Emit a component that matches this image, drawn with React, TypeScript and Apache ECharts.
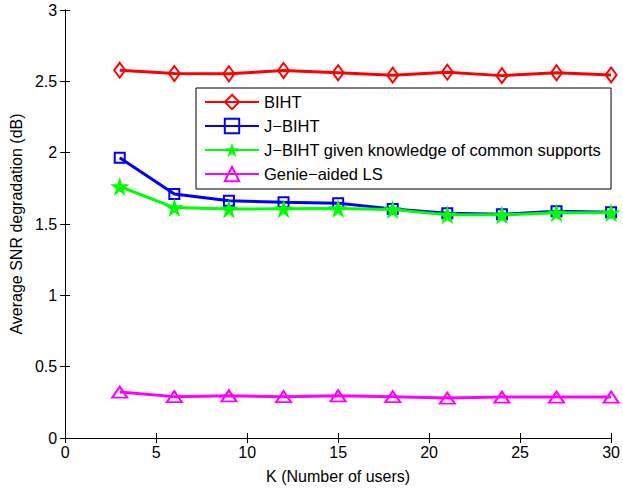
import React, { useEffect, useRef } from "react";
import * as echarts from "echarts";

const kValues = [3, 6, 9, 12, 15, 18, 21, 24, 27, 30];
const biht = [2.578, 2.555, 2.553, 2.576, 2.56, 2.543, 2.564, 2.54, 2.56, 2.545];
const jbiht = [1.965, 1.71, 1.663, 1.652, 1.646, 1.606, 1.576, 1.568, 1.59, 1.583];
const jbihtKnown = [1.763, 1.615, 1.605, 1.607, 1.609, 1.602, 1.564, 1.564, 1.578, 1.579];
const genie = [0.322, 0.29, 0.296, 0.29, 0.296, 0.29, 0.28, 0.287, 0.287, 0.287];

const seriesNames = [
  "BIHT",
  "J\u2212BIHT",
  "J\u2212BIHT given knowledge of common supports",
  "Genie\u2212aided LS",
];

const xTicks = { min: 0, max: 30, interval: 5 };
const yTicks = { min: 0, max: 3, interval: 0.5 };

const STAR =
  "path://M50,0 L61.2,34.5 L97.6,34.5 L68.2,55.9 L79.4,90.5 L50,69.1 L20.6,90.5 L31.8,55.9 L2.4,34.5 L38.8,34.5 Z";

export default function App() {
  const ref = useRef<HTMLDivElement>(null);
  useEffect(() => {
    if (!ref.current) return;
    const chart = echarts.init(ref.current, undefined, { renderer: "svg" });
    const font = "Liberation Sans, Arial, Helvetica, sans-serif";
    const mk = (data: number[]) => kValues.map((k, i) => [k, data[i]]);
    const axisCommon = {
      axisLine: { show: true, lineStyle: { color: "#000", width: 1 } },
      axisTick: { show: true, inside: true, length: 5, lineStyle: { color: "#000" } },
      splitLine: { show: false },
    };
    const hollow = (c: string) => ({ color: "rgba(255,255,255,0)", borderColor: c, borderWidth: 2 });
    chart.setOption({
      animation: false,
      backgroundColor: "#fff",
      textStyle: { fontFamily: font },
      grid: { left: 65, right: 8, top: 10, bottom: 47 },
      legend: {
        orient: "vertical",
        left: 196,
        top: 88,
        padding: [5, 10, 6, 8],
        itemGap: 6,
        itemWidth: 54,
        itemHeight: 18,
        borderColor: "#000",
        borderWidth: 1,
        borderRadius: 0,
        backgroundColor: "#fff",
        textStyle: { fontFamily: font, fontSize: 16.5, color: "#000", lineHeight: 18 },
        data: seriesNames,
      },
      xAxis: [
        {
          type: "value",
          ...xTicks,
          ...axisCommon,
          name: "K (Number of users)",
          nameLocation: "middle",
          nameGap: 30,
          nameTextStyle: { fontFamily: font, fontSize: 16, color: "#000" },
          axisLabel: { fontFamily: font, fontSize: 16, color: "#000", margin: 6 },
        },
        {
          type: "value",
          position: "top",
          ...xTicks,
          ...axisCommon,
          axisLabel: { show: false },
        },
      ],
      yAxis: [
        {
          type: "value",
          ...yTicks,
          ...axisCommon,
          name: "Average SNR degradation (dB)",
          nameLocation: "middle",
          nameGap: 40,
          nameTextStyle: { fontFamily: font, fontSize: 16, color: "#000" },
          axisLabel: { fontFamily: font, fontSize: 16, color: "#000", margin: 8 },
        },
        {
          type: "value",
          position: "right",
          ...yTicks,
          ...axisCommon,
          axisLabel: { show: false },
        },
      ],
      series: [
        {
          name: seriesNames[0],
          type: "line",
          data: mk(biht),
          symbol: "diamond",
          symbolSize: [11, 15],
          lineStyle: { color: "#ff0000", width: 3 },
          itemStyle: hollow("#ff0000"),
          z: 4,
        },
        {
          name: seriesNames[1],
          type: "line",
          data: mk(jbiht),
          symbol: "rect",
          symbolSize: 10,
          lineStyle: { color: "#0000ff", width: 3 },
          itemStyle: hollow("#0000ff"),
          z: 3,
        },
        {
          name: seriesNames[2],
          type: "line",
          data: mk(jbihtKnown),
          symbol: STAR,
          symbolSize: 19,
          lineStyle: { color: "#00ff00", width: 3 },
          itemStyle: { color: "#00ff00" },
          z: 5,
        },
        {
          name: seriesNames[3],
          type: "line",
          data: mk(genie),
          symbol: "triangle",
          symbolSize: [15, 11],
          lineStyle: { color: "#ff00ff", width: 3 },
          itemStyle: hollow("#ff00ff"),
          z: 3,
        },
      ],
    });
    return () => chart.dispose();
  }, []);
  return <div ref={ref} style={{ width: 623, height: 489, position: "absolute", left: 0, top: 0 }} />;
}
